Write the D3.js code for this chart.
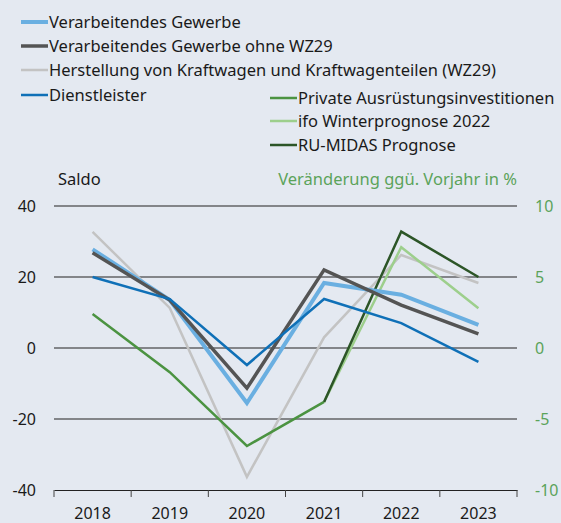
<!DOCTYPE html>
<html>
<head>
<meta charset="utf-8">
<script src="https://cdn.jsdelivr.net/npm/d3@7"></script>
<style>
  body { margin: 0; background: #e4e9f1; }
  svg { display: block; font-family: "Noto Sans", sans-serif; }
</style>
</head>
<body>
<div class="chart"></div>
<script>
var years = ['2018', '2019', '2020', '2021', '2022', '2023'];
var leftTicks = [-40, -20, 0, 20, 40];
var rightTicks = [-10, -5, 0, 5, 10];

var verarbeitend = [27.8, 13.5, -15.5, 18.3, 15.0, 6.5];
var ohneWZ29 = [26.8, 13.5, -11.3, 22.0, 12.1, 4.0];
var kraftwagen = [32.7, 11.3, -36.3, 3.0, 26.2, 18.3];
var dienstleister = [20.0, 13.8, -4.8, 13.8, 7.0, -3.9];
// right axis (%)
var ausruestung = [2.4, -1.7, -6.9, -3.8, null, null];
var ifoPrognose = [null, null, null, -3.8, 7.1, 2.8];
var midasPrognose = [null, null, null, -3.8, 8.2, 5.0];

var W = 561, H = 523;
var margin = { top: 206, right: 44, bottom: 33, left: 54 };
var width = W - margin.left - margin.right;
var height = H - margin.top - margin.bottom;
var fs = 16.5;

var svg = d3.select('.chart')
  .append('svg')
    .attr('width', W)
    .attr('height', H);

svg.append('rect').attr('width', W).attr('height', H).attr('fill', '#e4e9f1');

var g = svg.append('g')
  .attr('transform', `translate(${margin.left}, ${margin.top})`);

var x = d3.scaleBand().domain(years).range([0, width]);
var yL = d3.scaleLinear().domain([-40, 40]).range([height, 0]);
var yR = d3.scaleLinear().domain([-10, 10]).range([height, 0]);

// gridlines
g.selectAll('.grid')
  .data(leftTicks.filter(d => d !== -40))
  .enter().append('line')
    .attr('x1', 0).attr('x2', width)
    .attr('y1', d => yL(d)).attr('y2', d => yL(d))
    .attr('stroke', '#222').attr('stroke-width', 1.2);

// left tick labels
g.selectAll('.lt')
  .data(leftTicks)
  .enter().append('text')
    .attr('x', -18).attr('y', d => yL(d))
    .attr('dy', '0.35em')
    .attr('text-anchor', 'end')
    .attr('font-size', 16)
    .attr('fill', '#1a1a1a')
    .text(d => d);

// right tick labels
g.selectAll('.rt')
  .data(rightTicks)
  .enter().append('text')
    .attr('x', width + 18).attr('y', d => yR(d))
    .attr('dy', '0.35em')
    .attr('font-size', 16)
    .attr('fill', '#5ba35a')
    .text(d => d);

// x axis
var xAxis = d3.axisBottom(x).tickSize(0).tickPadding(18);
var ax = g.append('g')
  .attr('transform', `translate(0, ${height})`)
  .call(xAxis);
ax.select('.domain').attr('stroke', '#222').attr('stroke-width', 1.2);
ax.selectAll('text').attr('font-size', 16).attr('fill', '#1a1a1a').attr('font-family', '"Noto Sans", sans-serif');

var bounds = years.map(d => x(d)).concat([width]);
ax.selectAll('.bt')
  .data(bounds)
  .enter().append('line')
    .attr('x1', d => d).attr('x2', d => d)
    .attr('y1', 0).attr('y2', 7)
    .attr('stroke', '#444');

// axis titles
g.append('text')
  .attr('x', 4).attr('y', -21)
  .attr('font-size', fs).attr('fill', '#1a1a1a')
  .text('Saldo');
g.append('text')
  .attr('x', width).attr('y', -21)
  .attr('text-anchor', 'end')
  .attr('font-size', fs).attr('fill', '#5ba35a')
  .text('Veränderung ggü. Vorjahr in %');

var series = [
  { name: 'Herstellung von Kraftwagen und Kraftwagenteilen (WZ29)', values: kraftwagen, scale: yL, color: '#c3c3c3', w: 2.5 },
  { name: 'Private Ausrüstungsinvestitionen', values: ausruestung, scale: yR, color: '#4b9341', w: 2.5 },
  { name: 'ifo Winterprognose 2022', values: ifoPrognose, scale: yR, color: '#9dcf8c', w: 2.5 },
  { name: 'RU-MIDAS Prognose', values: midasPrognose, scale: yR, color: '#2c5527', w: 2.5 },
  { name: 'Verarbeitendes Gewerbe', values: verarbeitend, scale: yL, color: '#6aafe1', w: 4 },
  { name: 'Verarbeitendes Gewerbe ohne WZ29', values: ohneWZ29, scale: yL, color: '#545454', w: 3.5 },
  { name: 'Dienstleister', values: dienstleister, scale: yL, color: '#0f70b7', w: 2.5 }
];

series.forEach(function (s) {
  var line = d3.line()
    .defined(d => d != null)
    .x((d, i) => x(years[i]) + x.bandwidth() / 2)
    .y(d => s.scale(d));
  g.append('path')
    .datum(s.values)
    .attr('d', line)
    .attr('fill', 'none')
    .attr('stroke', s.color)
    .attr('stroke-width', s.w);
});

// legend
var legend = [
  { name: 'Verarbeitendes Gewerbe', color: '#6aafe1', w: 4, x: 21, y: 22 },
  { name: 'Verarbeitendes Gewerbe ohne WZ29', color: '#545454', w: 3.5, x: 21, y: 46 },
  { name: 'Herstellung von Kraftwagen und Kraftwagenteilen (WZ29)', color: '#c3c3c3', w: 2.5, x: 21, y: 70 },
  { name: 'Dienstleister', color: '#0f70b7', w: 2.5, x: 21, y: 95 },
  { name: 'Private Ausrüstungsinvestitionen', color: '#4b9341', w: 2.5, x: 270, y: 98 },
  { name: 'ifo Winterprognose 2022', color: '#9dcf8c', w: 2.5, x: 270, y: 121 },
  { name: 'RU-MIDAS Prognose', color: '#2c5527', w: 2.5, x: 270, y: 145 }
];
var lg = svg.selectAll('.lg').data(legend).enter().append('g')
  .attr('transform', d => `translate(${d.x}, ${d.y})`);
lg.append('line')
  .attr('x1', 0).attr('x2', 27)
  .attr('stroke', d => d.color).attr('stroke-width', d => d.w);
lg.append('text')
  .attr('x', 28).attr('dy', '0.35em')
  .attr('font-size', fs).attr('fill', '#1a1a1a')
  .text(d => d.name);
</script>
</body>
</html>
